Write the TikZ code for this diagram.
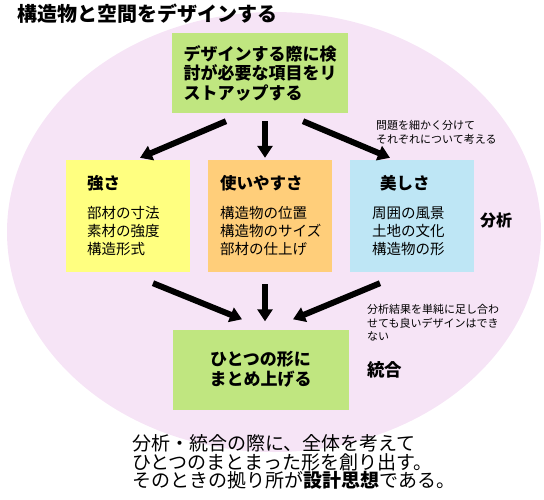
\documentclass[tikz,border=0pt]{standalone}
\usepackage{fontspec}
\setmainfont{Noto Sans CJK JP}
\usepackage{xcolor}
\usepackage{tikz}
\usetikzlibrary{arrows.meta, calc}
\definecolor{ovalpink}{RGB}{246, 228, 246}
\definecolor{stepgreen}{RGB}{192, 230, 128}
\definecolor{strongyellow}{RGB}{255, 255, 128}
\definecolor{useorange}{RGB}{255, 206, 122}
\definecolor{beautyblue}{RGB}{190, 230, 245}
\tikzstyle{greenbox} = [
    rectangle, 
    minimum width=176pt, 
    minimum height=80pt, 
    inner sep=0pt,
    fill=stepgreen,
    font=\fontsize{17}{19.5}\selectfont\bfseries
]
\tikzstyle{aspectbox} = [
    rectangle, 
    minimum width=124pt, 
    minimum height=112pt, 
    inner sep=0pt
]
\tikzstyle{aspecthead} = [
    anchor=west, 
    inner sep=0pt, 
    font=\fontsize{16.5}{18}\selectfont\bfseries
]
\tikzstyle{aspectlist} = [
    anchor=west, 
    align=left, 
    inner sep=0pt, 
    font=\fontsize{14.5}{18}\selectfont
]
\tikzstyle{note} = [
    anchor=west, 
    align=left, 
    inner sep=0pt, 
    font=\fontsize{11}{13.5}\selectfont
]
\tikzstyle{stage} = [
    anchor=west, 
    inner sep=0pt, 
    font=\fontsize{16}{18}\selectfont\bfseries
]
\tikzstyle{arrow} = [
    line width=6pt, 
    -{Triangle[width=15pt, length=12pt]}, 
    color=black
]

\begin{document}
\begin{tikzpicture}[x=1pt, y=-1pt]
        \useasboundingbox (0,0) rectangle (544,499);
        % Background oval
        \fill[ovalpink] (274,232) ellipse [x radius=267, y radius=220];
        
        % Nodes
        \node[anchor=west, inner sep=0pt, font=\fontsize{20}{20}\selectfont\bfseries] (title) at (17,14) {構造物と空間をデザインする};
        \node[greenbox, align=left] (listup) at (260,73) {デザインする際に検\\討が必要な項目をリ\\ストアップする};
        \node[aspectbox, fill=strongyellow] (strength) at (128,216) {};
        \node[aspectbox, fill=useorange] (usability) at (270,216) {};
        \node[aspectbox, fill=beautyblue] (beauty) at (411.5,216) {};
        \node[greenbox, align=center] (merge) at (260.5,369.5) {ひとつの形に\\まとめ上げる};
        
        % Box contents
        \node[aspecthead] (strengthhead) at (87,183) {強さ};
        \node[aspectlist] (strengthlist) at (87,231) {部材の寸法\\素材の強度\\構造形式};
        \node[aspecthead] (usabilityhead) at (220,183) {使いやすさ};
        \node[aspectlist] (usabilitylist) at (220,231) {構造物の位置\\構造物のサイズ\\部材の仕上げ};
        \node[aspecthead] (beautyhead) at (380,183) {美しさ};
        \node[aspectlist] (beautylist) at (372,231) {周囲の風景\\土地の文化\\構造物の形};
        
        % Side labels
        \node[stage] (analysis) at (480,220) {分析};
        \node[stage, font=\fontsize{17.5}{18}\selectfont\bfseries] (synthesis) at (367,370) {統合};
        \node[note, font=\fontsize{11}{14}\selectfont] (splitnote) at (376,132) {問題を細かく分けて\\それぞれについて考える};
        \node[note] (sumnote) at (367,323) {分析結果を単純に足し合わ\\せても良いデザインはでき\\ない};
        \node[anchor=west, align=left, inner sep=0pt, font=\fontsize{19}{18.5}\selectfont] (summary) at (132,462) {分析・統合の際に、全体を考えて\\ひとつのまとまった形を創り出す。\\そのときの拠り所が\textbf{設計思想}である。};
        
        % Arrows - split
        \draw[arrow] ($(listup.south)+(-34,8)$) -- ($(strength.north)+(12,-2)$);
        \draw[arrow] ($(listup.south)+(5,8)$) -- ($(usability.north)+(-5,-2)$);
        \draw[arrow] ($(listup.south)+(43,8)$) -- ($(beauty.north)+(-21.5,-2)$);
        
        % Arrows - merge
        \draw[arrow] ($(strength.south)+(25,11)$) -- ($(merge.north)+(-18.5,-10)$);
        \draw[arrow] ($(usability.south)+(-5,12)$) -- ($(merge.north)+(4.5,-8)$);
        \draw[arrow] ($(beauty.south)+(-31.5,11)$) -- ($(merge.north)+(32.5,-10)$);
    \end{tikzpicture}
\end{document}
